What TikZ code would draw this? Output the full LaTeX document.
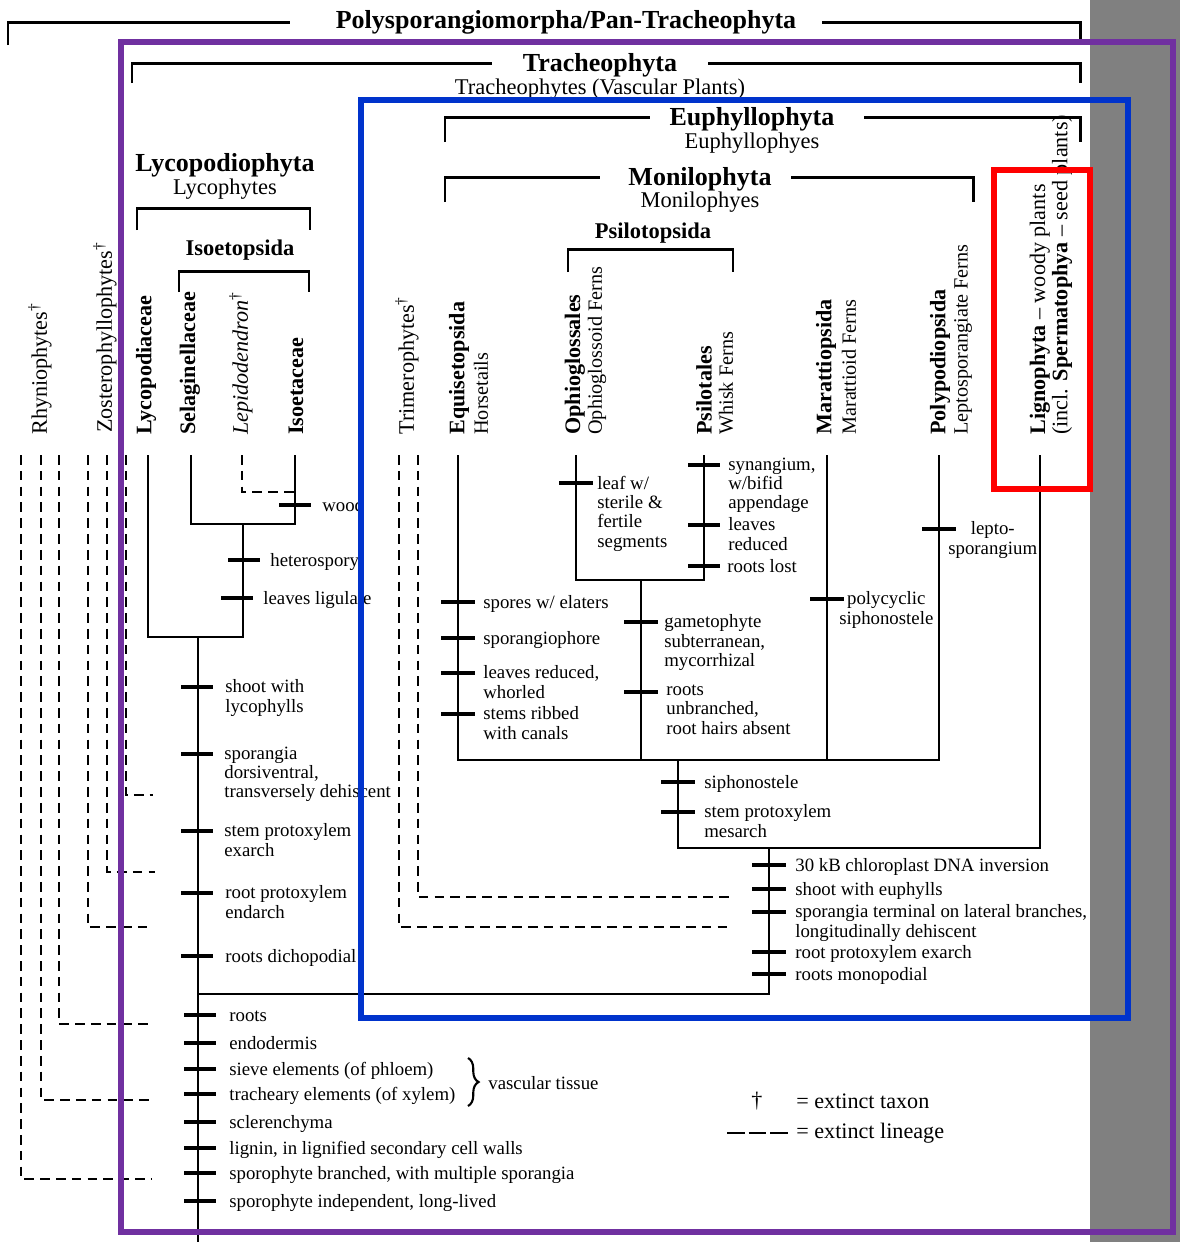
\documentclass[tikz,border=0pt]{standalone}
\usepackage{fontspec}
\setmainfont{Liberation Serif}
\usetikzlibrary{decorations.pathreplacing}
\definecolor{framepurple}{RGB}{112,48,160}
\definecolor{frameblue}{RGB}{0,51,204}
\definecolor{sidegray}{RGB}{128,128,128}
\tikzset{
    branch/.style = {line width=0.8pt, black},
    extinct/.style = {line width=0.8pt, black, dash pattern=on 5.5pt off 3.5pt}, % extinct lineage
    bracket/.style = {line width=1.7pt, black},
    apo/.style = {line width=2.8pt, black}, % synapomorphy bar
    trait/.style = {anchor=north west, inner sep=0pt, align=left, yshift=0.15cm,
                    font=\fontsize{10.7}{11}\selectfont, execute at begin node=\strut},
    traitc/.style = {trait, align=center},
    clade/.style = {inner sep=0pt, font=\fontsize{14.8}{15}\selectfont\bfseries},
    cladesub/.style = {inner sep=0pt, font=\fontsize{12.8}{13}\selectfont},
    group/.style = {inner sep=0pt, font=\fontsize{12.8}{13}\selectfont\bfseries},
    taxon/.style = {rotate=90, anchor=west, inner sep=0pt, font=\fontsize{12.6}{13}\selectfont\bfseries},
    taxonr/.style = {taxon, font=\fontsize{12.6}{13}\selectfont},
    taxonsub/.style = {taxon, font=\fontsize{11.5}{12}\selectfont},
    legend/.style = {inner sep=0pt, font=\fontsize{12.6}{13}\selectfont},
    frame/.style = {line width=3.4pt}
}
\begin{document}
\begin{tikzpicture}[x=0.02cm, y=-0.02cm]
  \useasboundingbox (0,0) rectangle (1180,1242);
  \fill[white] (0,0) rectangle (1180,1242);
  \fill[sidegray] (1090,0) rectangle (1180,1242);

  % clade headings
  \node[clade] (poly) at (566,22) {Polysporangiomorpha/Pan-Tracheophyta};
  \draw[bracket] (8,45) |- (290,22);
  \draw[bracket] (822,22) -| (1080,42);
  \node[clade] (trach) at (600,65) {Tracheophyta};
  \node[cladesub] (trachs) at (600,89) {Tracheophytes (Vascular Plants)};
  \draw[bracket] (132,83) |- (492,63);
  \draw[bracket] (708,63) -| (1080,83);
  \node[clade] (euph) at (752,119) {Euphyllophyta};
  \node[cladesub] (euphs) at (752,143) {Euphyllophyes};
  \draw[bracket] (445,142) |- (650,117);
  \draw[bracket] (864,117) -| (1080,142);
  \node[clade] (moni) at (700,179) {Monilophyta};
  \node[cladesub] (monis) at (700,202) {Monilophyes};
  \draw[bracket] (445,202) |- (600,177);
  \draw[bracket] (791,177) -| (973,202);
  \node[group] (psilop) at (653,233) {Psilotopsida};
  \draw[bracket] (568,272) |- (733,249) -- (733,272);
  \node[clade] (lycoph) at (225,165) {Lycopodiophyta};
  \node[cladesub] (lycophs) at (225,189) {Lycophytes};
  \draw[bracket] (137,230) |- (310,208) -- (310,230);
  \node[group] (isoetop) at (240,250) {Isoetopsida};
  \draw[bracket] (179,292) |- (309,271) -- (309,292);

  % terminal taxa
  \node[taxonr] (rhy-t) at (40,435) {Rhyniophytes\textsuperscript{\textdagger}};
  \node[taxonr] (zos-t) at (105,433) {Zosterophyllophytes\textsuperscript{\textdagger}};
  \node[taxon] (lycd-t) at (146,435) {Lycopodiaceae};
  \node[taxon] (sel-t) at (190,435) {Selaginellaceae};
  \node[taxonr] (lep-t) at (241,435) {\textit{Lepidodendron}\textsuperscript{\textdagger}};
  \node[taxon] (iso-t) at (296,435) {Isoetaceae};
  \node[taxonr] (tri-t) at (407,435) {Trimerophytes\textsuperscript{\textdagger}};
  \node[taxon] (equ-t) at (459,435) {Equisetopsida};
  \node[taxonsub] (equ-s) at (481,435) {Horsetails};
  \node[taxon] (oph-t) at (575,435) {Ophioglossales};
  \node[taxonsub] (oph-s) at (597,435) {Ophioglossoid Ferns};
  \node[taxon] (psi-t) at (704,435) {Psilotales};
  \node[taxonsub] (psi-s) at (726,435) {Whisk Ferns};
  \node[taxon] (mar-t) at (826,435) {Marattiopsida};
  \node[taxonsub] (mar-s) at (849,435) {Marattioid Ferns};
  \node[taxon] (pol-t) at (940,435) {Polypodiopsida};
  \node[taxonsub] (pol-s) at (963,435) {Leptosporangiate Ferns};
  \node[taxonr] (lig-t) at (1040,435) {\textbf{Lignophyta} -- woody plants};
  \node[taxonr] (lig-s) at (1062,435) {(incl. \textbf{Spermatophya} -- seed plants)};

  % lineage tips and joints
  \coordinate (ext-a) at (21,455);   \coordinate (ext-a-j) at (152,1179);
  \coordinate (rhy) at (41,455);     \coordinate (rhy-j) at (152,1100);
  \coordinate (ext-b) at (59,455);   \coordinate (ext-b-j) at (148,1024);
  \coordinate (ext-c) at (88,455);   \coordinate (ext-c-j) at (150,927);
  \coordinate (zos) at (107,455);    \coordinate (zos-j) at (155,872);
  \coordinate (ext-d) at (126,455);  \coordinate (ext-d-j) at (153,795);
  \coordinate (lycd) at (148,455);
  \coordinate (sel) at (191,455);
  \coordinate (lep) at (242,455);    \coordinate (lep-j) at (295,492);
  \coordinate (iso) at (295,455);    \coordinate (iso-j) at (295,524);
  \coordinate (isoe) at (243,524);   \coordinate (isoe-b) at (243,637);
  \coordinate (lyco) at (198,637);   \coordinate (root) at (198,1242);
  \coordinate (tri-a) at (399,455);  \coordinate (tri-a-j) at (732,927);
  \coordinate (tri) at (418,455);    \coordinate (tri-j) at (732,897);
  \coordinate (equ) at (458,455);
  \coordinate (oph) at (576,455);
  \coordinate (psi) at (704,455);    \coordinate (psi-j) at (704,580);
  \coordinate (psilo) at (641,580);  \coordinate (psilo-b) at (641,760);
  \coordinate (mar) at (827,455);    \coordinate (mar-b) at (827,760);
  \coordinate (pol) at (939,455);    \coordinate (pol-b) at (939,760);
  \coordinate (monil) at (678,760);  \coordinate (monil-b) at (678,848);
  \coordinate (lig) at (1040,455);   \coordinate (lig-b) at (1040,848);
  \coordinate (eu) at (769,848);     \coordinate (eu-b) at (769,994);
  \coordinate (trach-j) at (198,994);

  \draw[extinct] (ext-a) |- (ext-a-j);
  \draw[extinct] (rhy) |- (rhy-j);
  \draw[extinct] (ext-b) |- (ext-b-j);
  \draw[extinct] (ext-c) |- (ext-c-j);
  \draw[extinct] (zos) |- (zos-j);
  \draw[extinct] (ext-d) |- (ext-d-j);
  \draw[extinct] (lep) |- (lep-j);
  \draw[extinct] (tri-a) |- (tri-a-j);
  \draw[extinct] (tri) |- (tri-j);

  \draw[branch] (sel) |- (iso-j) -- (iso);
  \draw[branch] (lycd) |- (isoe-b) -- (isoe);
  \draw[branch] (lyco) -- (root);
  \draw[branch] (equ) |- (pol-b) -- (pol);
  \draw[branch] (oph) |- (psi-j) -- (psi);
  \draw[branch] (psilo) -- (psilo-b);
  \draw[branch] (mar) -- (mar-b);
  \draw[branch] (monil) -- (monil-b) -- (lig-b) -- (lig);
  \draw[branch] (eu) -- (eu-b) -- (trach-j);

  % lycophyte characters
  \draw[apo] (295,505) ++(-16,0) -- ++(32,0);
  \node[trait] (wood) at (322,505) {wood};
  \draw[apo] (244,560) ++(-16,0) -- ++(32,0);
  \node[trait] (hetero) at (270,560) {heterospory};
  \draw[apo] (237,598) ++(-16,0) -- ++(32,0);
  \node[trait] (ligul) at (263,598) {leaves ligulate};
  \draw[apo] (197,687) ++(-16,0) -- ++(32,0);
  \node[trait] (lphyll) at (225,687) {shoot with\\lycophylls};
  \draw[apo] (197,754) ++(-16,0) -- ++(32,0);
  \node[trait] (sporan) at (224,754) {sporangia\\dorsiventral,\\transversely dehiscent};
  \draw[apo] (197,831) ++(-16,0) -- ++(32,0);
  \node[trait] (exarch) at (224,831) {stem protoxylem\\exarch};
  \draw[apo] (197,893) ++(-16,0) -- ++(32,0);
  \node[trait] (endarch) at (225,893) {root protoxylem\\endarch};
  \draw[apo] (197,956) ++(-16,0) -- ++(32,0);
  \node[trait] (dicho) at (225,956) {roots dichopodial};

  % tracheophyte characters
  \draw[apo] (200,1015) ++(-16,0) -- ++(32,0);
  \node[trait] (roots) at (229,1015) {roots};
  \draw[apo] (200,1043) ++(-16,0) -- ++(32,0);
  \node[trait] (endo) at (229,1043) {endodermis};
  \draw[apo] (200,1069) ++(-16,0) -- ++(32,0);
  \node[trait] (sieve) at (229,1069) {sieve elements (of phloem)};
  \draw[apo] (200,1094) ++(-16,0) -- ++(32,0);
  \node[trait] (trachel) at (229,1094) {tracheary elements (of xylem)};
  \draw[apo] (200,1122) ++(-16,0) -- ++(32,0);
  \node[trait] (scler) at (229,1122) {sclerenchyma};
  \draw[apo] (200,1148) ++(-16,0) -- ++(32,0);
  \node[trait] (lignin) at (229,1148) {lignin, in lignified secondary cell walls};
  \draw[apo] (200,1173) ++(-16,0) -- ++(32,0);
  \node[trait] (branched) at (229,1173) {sporophyte branched, with multiple sporangia};
  \draw[apo] (200,1201) ++(-16,0) -- ++(32,0);
  \node[trait] (indep) at (229,1201) {sporophyte independent, long-lived};
  \draw[line width=1.2pt, decorate, decoration={brace, amplitude=6pt}] (468,1058) -- (468,1106);
  \node[trait] (vasc) at (488,1083) {vascular tissue};

  % euphyllophyte characters
  \draw[apo] (576,483) ++(-17,0) -- ++(34,0);
  \node[trait] (leafw) at (597,483) {leaf w/\\sterile \&\\fertile\\segments};
  \draw[apo] (704,465) ++(-16,0) -- ++(32,0);
  \node[trait] (synang) at (728,465) {synangium,\\w/bifid\\appendage};
  \draw[apo] (704,525) ++(-16,0) -- ++(32,0);
  \node[trait] (leavred) at (728,525) {leaves\\reduced};
  \draw[apo] (704,566) ++(-16,0) -- ++(32,0);
  \node[trait] (rlost) at (727,566) {roots lost};
  \draw[apo] (458,602) ++(-17,0) -- ++(34,0);
  \node[trait] (elaters) at (483,602) {spores w/ elaters};
  \draw[apo] (458,638) ++(-17,0) -- ++(34,0);
  \node[trait] (sphore) at (483,638) {sporangiophore};
  \draw[apo] (458,673) ++(-17,0) -- ++(34,0);
  \node[trait] (whorl) at (483,673) {leaves reduced,\\whorled};
  \draw[apo] (458,714) ++(-17,0) -- ++(34,0);
  \node[trait] (ribbed) at (483,714) {stems ribbed\\with canals};
  \draw[apo] (641,622) ++(-17,0) -- ++(34,0);
  \node[trait] (gameto) at (664,622) {gametophyte\\subterranean,\\mycorrhizal};
  \draw[apo] (641,692) ++(-17,0) -- ++(34,0);
  \node[trait] (unbr) at (666,692) {roots\\unbranched,\\root hairs absent};
  \draw[apo] (827,599) ++(-17,0) -- ++(34,0);
  \node[traitc] (polyc) at (839,599) {polycyclic\\siphonostele};
  \draw[apo] (939,529) ++(-17,0) -- ++(34,0);
  \node[traitc] (lepto) at (948,529) {lepto-\\sporangium};
  \draw[apo] (678,782) ++(-17,0) -- ++(34,0);
  \node[trait] (siph) at (704,782) {siphonostele};
  \draw[apo] (678,812) ++(-17,0) -- ++(34,0);
  \node[trait] (mesarch) at (704,812) {stem protoxylem\\mesarch};
  \draw[apo] (769,865) ++(-17,0) -- ++(34,0);
  \node[trait] (cpdna) at (795,865) {30 kB chloroplast DNA inversion};
  \draw[apo] (769,889) ++(-17,0) -- ++(34,0);
  \node[trait] (euphyll) at (795,889) {shoot with euphylls};
  \draw[apo] (769,912) ++(-17,0) -- ++(34,0);
  \node[trait] (termin) at (795,912) {sporangia terminal on lateral branches,\\longitudinally dehiscent};
  \draw[apo] (769,952) ++(-17,0) -- ++(34,0);
  \node[trait] (rexarch) at (795,952) {root protoxylem exarch};
  \draw[apo] (769,974) ++(-17,0) -- ++(34,0);
  \node[trait] (monop) at (795,974) {roots monopodial};

  % legend
  \node[legend] (dag) at (757,1101) {\textdagger};
  \node[legend, anchor=west] (dag-t) at (796,1101) {= extinct taxon};
  \coordinate (dash-a) at (727,1133);
  \coordinate (dash-b) at (788,1133);
  \draw[line width=0.8pt, dash pattern=on 10pt off 2.3pt] (dash-a) -- (dash-b);
  \node[legend, anchor=west] (dash-t) at (796,1133) {= extinct lineage};

  % highlight frames
  \draw[frame, framepurple] (121,42) rectangle (1173,1232);
  \draw[frame, frameblue] (361,100) rectangle (1128,1018);
  \draw[frame, red] (994,170) rectangle (1090,489);
\end{tikzpicture}
\end{document}
